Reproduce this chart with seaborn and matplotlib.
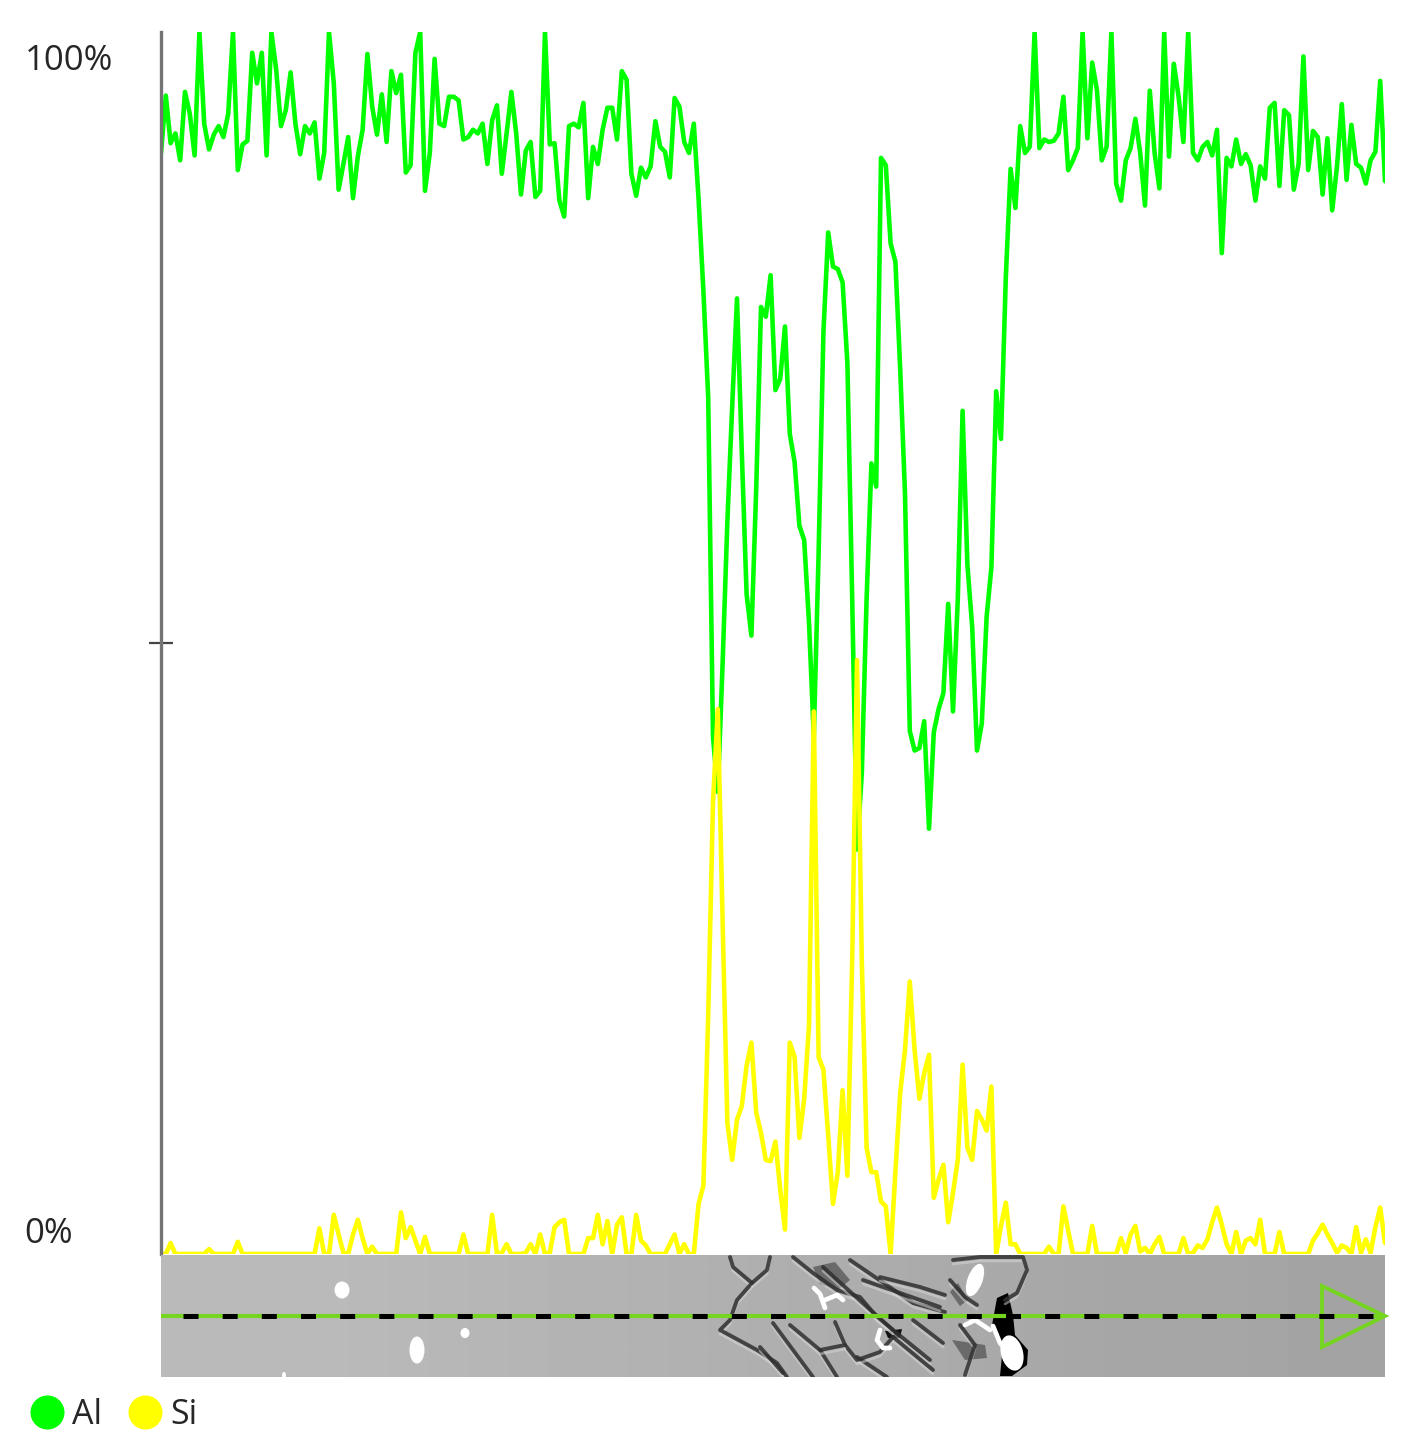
import numpy as np
import pandas as pd
import matplotlib
matplotlib.use("Agg")
import matplotlib.pyplot as plt
from matplotlib.lines import Line2D
from matplotlib.patches import Ellipse, Polygon
import seaborn as sns

W, H = 1424, 1456
GREEN = "#00FF00"
YELLOW = "#FFFF00"
MARKER = "#76D520"
AXIS = "#747474"
INK = "#262626"

# line scan, % of the scale, one reading per step along the track
AL = [
    90.1, 94.8, 90.9, 91.7, 89.5, 95.1, 93.3, 89.9, 100, 92.5,
    90.4, 91.6, 92.3, 91.4, 93.3, 100, 88.7, 90.8, 91.1, 98.3,
    95.8, 98.3, 89.9, 100, 96.9, 92.3, 93.6, 96.7, 92.5, 90.0,
    92.3, 91.7, 92.6, 88.0, 90.1, 100, 95.8, 87.1, 89.2, 91.4,
    86.4, 89.8, 92.0, 98.2, 93.9, 91.6, 94.9, 91.0, 96.8, 95.0,
    96.5, 88.5, 89.1, 98.3, 100, 87.0, 90.1, 97.8, 92.5, 92.3,
    94.7, 94.7, 94.4, 91.2, 91.4, 92.0, 91.7, 92.5, 89.2, 92.8,
    94.0, 88.4, 91.7, 95.1, 91.7, 86.7, 90.3, 91.0, 86.5, 87.0,
    100, 90.8, 90.9, 86.2, 84.9, 92.3, 92.5, 92.2, 94.2, 86.4,
    90.6, 89.2, 92.0, 93.8, 93.8, 91.2, 96.8, 96.1, 88.4, 86.6,
    88.9, 88.1, 89.0, 92.7, 90.6, 90.2, 88.1, 94.6, 93.9, 91.0,
    90.1, 92.5, 86.3, 78.8, 70.1, 42.3, 37.8, 48.3, 60.0, 69.4,
    78.2, 65.6, 54.0, 50.6, 62.6, 77.5, 76.7, 80.1, 70.7, 71.6,
    75.9, 67.1, 64.8, 59.6, 58.4, 51.7, 42.3, 57.3, 75.4, 83.6,
    80.8, 80.6, 79.5, 72.9, 53.6, 33.1, 39.3, 53.6, 64.7, 62.8,
    89.7, 89.1, 82.7, 81.2, 72.4, 62.2, 42.8, 41.2, 41.4, 43.6,
    34.8, 42.7, 44.6, 45.9, 53.2, 44.4, 53.6, 69.0, 56.4, 51.3,
    41.2, 43.4, 52.1, 56.2, 70.6, 66.7, 79.9, 88.8, 85.6, 92.3,
    90.1, 90.6, 100, 90.5, 91.2, 91.0, 91.1, 91.7, 94.7, 88.7,
    89.5, 90.5, 100, 91.3, 97.5, 95.2, 89.5, 90.6, 100, 87.6,
    86.2, 89.5, 90.5, 92.9, 90.1, 85.8, 95.2, 90.1, 87.2, 100,
    89.8, 97.4, 94.7, 91.0, 100, 90.1, 89.5, 90.6, 91.0, 89.9,
    92.0, 81.9, 89.7, 89.0, 91.2, 89.2, 90.0, 89.1, 86.2, 89.0,
    88.0, 93.8, 94.2, 87.4, 93.6, 93.2, 87.1, 89.2, 98.0, 88.7,
    91.9, 91.4, 86.7, 91.3, 85.4, 89.0, 94.1, 87.9, 92.4, 89.2,
    88.9, 87.6, 89.5, 90.2, 96.0, 87.8,
]
SI = [
    0, 0, 0.9, 0, 0, 0, 0, 0, 0, 0,
    0.4, 0, 0, 0, 0, 0, 1.0, 0, 0, 0,
    0, 0, 0, 0, 0, 0, 0, 0, 0, 0,
    0, 0, 0, 2.1, 0, 0, 3.2, 1.6, 0.1, 0,
    1.6, 2.8, 1.3, 0, 0.6, 0, 0, 0, 0, 0,
    3.4, 1.3, 2.2, 1.1, 0, 1.4, 0, 0, 0, 0,
    0, 0, 0, 1.6, 0, 0, 0, 0, 0, 3.2,
    0, 0.1, 0.8, 0, 0, 0, 0.1, 0.8, 0, 1.6,
    0, 0.1, 2.2, 2.6, 2.8, 0, 0, 0, 0, 1.3,
    1.3, 3.2, 0.8, 2.7, 0, 2.4, 3.0, 0, 0, 3.2,
    1.1, 0.7, 0, 0, 0, 0, 0.8, 1.6, 0, 0.8,
    0, 0, 4.1, 5.6, 19.5, 37, 44.6, 27.3, 10.7, 7.7,
    11.0, 12.1, 15.4, 17.3, 11.6, 9.9, 7.7, 7.6, 9.2, 5.3,
    2.0, 17.3, 16.1, 9.5, 12.7, 18.7, 44.4, 16.1, 15.1, 9.7,
    4.1, 6.7, 13.4, 6.4, 24.1, 48.6, 24.0, 8.7, 6.7, 6.7,
    4.3, 3.9, 0, 6.7, 13.2, 16.7, 22.3, 16.7, 12.7, 14.8,
    16.3, 4.6, 6.1, 7.3, 2.6, 5.0, 7.7, 15.5, 8.7, 7.7,
    11.7, 11.0, 10.1, 13.7, 0, 2.3, 4.2, 0.8, 0.8, 0,
    0, 0, 0, 0, 0, 0.6, 0, 0, 3.9, 1.9,
    0, 0, 0, 0, 2.3, 0, 0, 0, 0, 0,
    1.3, 0.1, 1.6, 2.3, 0.2, 0.5, 0, 0.8, 1.4, 0,
    0, 0, 0, 1.3, 0, 0.1, 0.7, 0.5, 1.2, 2.6,
    3.8, 2.4, 0.8, 0, 1.8, 0, 1.1, 1.3, 0.8, 2.8,
    0, 0, 0, 1.8, 0, 0, 0, 0, 0, 0,
    1.1, 1.7, 2.4, 1.6, 0.9, 0.1, 0.7, 0.5, 0, 2.2,
    0.1, 1.2, 0.1, 2.2, 3.8, 0.9,
]
ELEMENTS = ["Al", "Si"]
Y_TICKS = [50]

# micrograph strip under the scan, grey levels left to right
STRIP_GREY = [0.73, 0.73, 0.72, 0.71, 0.70, 0.69, 0.68, 0.67, 0.66, 0.65, 0.65, 0.64]
# grain boundaries, in reference pixels
GRAIN_LINES = [
    [(730, 1257), (733, 1267), (752, 1283), (737, 1300), (730, 1320), (720, 1330), (733, 1337), (757, 1350), (777, 1363), (787, 1377)],
    [(770, 1257), (767, 1270), (752, 1283)],
    [(793, 1257), (813, 1273), (837, 1290), (860, 1297), (877, 1317), (893, 1330), (930, 1360)],
    [(823, 1267), (867, 1307), (893, 1330)],
    [(850, 1260), (913, 1303), (945, 1312)],
    [(880, 1277), (920, 1287), (945, 1295)],
    [(863, 1280), (940, 1307)],
    [(773, 1323), (813, 1377)],
    [(760, 1347), (783, 1373)],
    [(820, 1350), (837, 1377)],
    [(893, 1337), (933, 1370)],
    [(857, 1357), (887, 1377)],
    [(913, 1320), (943, 1343)],
    [(845, 1345), (857, 1360), (880, 1352), (893, 1337)],
    [(790, 1325), (820, 1350), (845, 1345), (835, 1322)],
    [(953, 1260), (980, 1257), (1023, 1257), (1027, 1270), (1017, 1293), (1005, 1300)],
    [(950, 1280), (965, 1297), (977, 1305)],
    [(960, 1325), (975, 1345), (965, 1375)],
]
DARK_PATCHES = [
    [(813, 1267), (835, 1262), (850, 1280), (838, 1290), (820, 1284)],
    [(952, 1340), (985, 1345), (987, 1358), (965, 1360)],
    [(958, 1283), (968, 1300), (960, 1306), (950, 1292)],
]
BLACK_PATCH = [(997, 1298), (1008, 1293), (1013, 1315), (1015, 1335), (1028, 1350), (1027, 1365),
               (1012, 1376), (1000, 1376), (1003, 1345), (992, 1325)]
SHADOW = [(885, 1331), (902, 1329), (900, 1338), (888, 1338)]
WHITE_LINES = [
    [(814, 1288), (820, 1294), (825, 1308)],
    [(825, 1300), (837, 1295), (843, 1300)],
    [(880, 1330), (877, 1340), (883, 1348), (890, 1348)],
    [(965, 1325), (975, 1320), (990, 1330)],
    [(993, 1326), (1000, 1343), (1008, 1352)],
]
# centre x, centre y, width, height, tilt
WHITE_BLOBS = [
    (342, 1290, 15, 17, 0), (417, 1350, 15, 27, 0), (465, 1333, 9, 10, 0), (284, 1375, 4, 6, 0),
    (975, 1280, 15, 34, 20), (1012, 1353, 22, 36, -15),
]

df = pd.DataFrame({"step": np.arange(len(AL)), "Al": AL, "Si": SI})
long_df = df.melt(id_vars="step", value_vars=ELEMENTS, var_name="element", value_name="percent")

sns.set_style("white")
plt.rcParams["font.family"] = ["Open Sans", "DejaVu Sans"]
plt.rcParams["lines.scale_dashes"] = False

fig = plt.figure(figsize=(W / 100, H / 100), dpi=100, facecolor="white")

# ── scan panel ───────────────────────────────────────────────────────────────
ax = fig.add_axes([161 / W, 1 - 1254 / H, 1224 / W, 1222 / H])
sns.lineplot(data=long_df, x="step", y="percent", hue="element", hue_order=ELEMENTS,
             palette=[GREEN, YELLOW], errorbar=None, linewidth=3.3, legend=False, ax=ax)
ax.set_xlim(0, len(AL) - 1)
ax.set_ylim(0, 100)
ax.set_xlabel("")
ax.set_ylabel("")
ax.set_xticks([])
ax.set_yticks(Y_TICKS)
ax.set_yticklabels([])
ax.tick_params(axis="y", direction="inout", length=17.5, width=1.6, color="#444444", left=True)
ax.patch.set_alpha(0)
for side in ["top", "right", "bottom"]:
    ax.spines[side].set_visible(False)
ax.spines["left"].set_color(AXIS)
ax.spines["left"].set_linewidth(2.4)

fig.text(25 / W, 1 - 61 / H, "100%", fontsize=25, color=INK, va="center", ha="left")
fig.text(24 / W, 1 - 1234 / H, "0%", fontsize=25, color=INK, va="center", ha="left")

# ── micrograph strip ─────────────────────────────────────────────────────────
strip = fig.add_axes([161 / W, 1 - 1377 / H, 1224 / W, 122 / H])
strip.imshow([STRIP_GREY], cmap="gray", vmin=0, vmax=1, aspect="auto", interpolation="bilinear",
             extent=(161, 1385, 1377, 1255))
for pts in DARK_PATCHES:
    strip.add_patch(Polygon(pts, closed=True, color="#5A5A5A", alpha=0.8, lw=0))
for pts in GRAIN_LINES:
    xs, ys = zip(*pts)
    strip.plot(xs, [v + 4 for v in ys], color="#DADADA", lw=1.8, alpha=0.5)
    strip.plot(xs, ys, color="#303030", lw=2.8, alpha=0.85, solid_joinstyle="round")
strip.add_patch(Polygon(BLACK_PATCH, closed=True, color="black", lw=0))
strip.add_patch(Polygon(SHADOW, closed=True, color="#111111", lw=0))
for pts in WHITE_LINES:
    xs, ys = zip(*pts)
    strip.plot(xs, ys, color="white", lw=3.4, solid_capstyle="round")
for cx, cy, w, h, tilt in WHITE_BLOBS:
    strip.add_patch(Ellipse((cx, cy), w, h, angle=tilt, color="white", lw=0))

# track line and arrow head
strip.plot([161, 1385], [1316, 1316], color=MARKER, lw=3, solid_capstyle="butt")
strip.plot([183, 1385], [1316, 1316], color="black", lw=3.6, ls=(0, (10.8, 17.4)))
strip.add_patch(Polygon([(1322, 1286), (1322, 1347), (1385, 1316)], closed=True,
                        fill=False, edgecolor=MARKER, lw=2.8, clip_on=False))
strip.set_xlim(161, 1385)
strip.set_ylim(1377, 1255)
strip.axis("off")

# ── legend ───────────────────────────────────────────────────────────────────
handles = [Line2D([], [], ls="", marker="o", ms=23.5, mfc=c, mec=c, label=n)
           for c, n in zip([GREEN, YELLOW], ELEMENTS)]
fig.legend(handles=handles, ncol=2, frameon=False, fontsize=24.5, labelcolor=INK,
           loc="center left", bbox_to_anchor=(30 / W, 1 - 1415 / H), borderpad=0,
           handlelength=1.0, handletextpad=0.235, columnspacing=0.77, borderaxespad=0)

fig.savefig("out.png", dpi=100, facecolor="white")
